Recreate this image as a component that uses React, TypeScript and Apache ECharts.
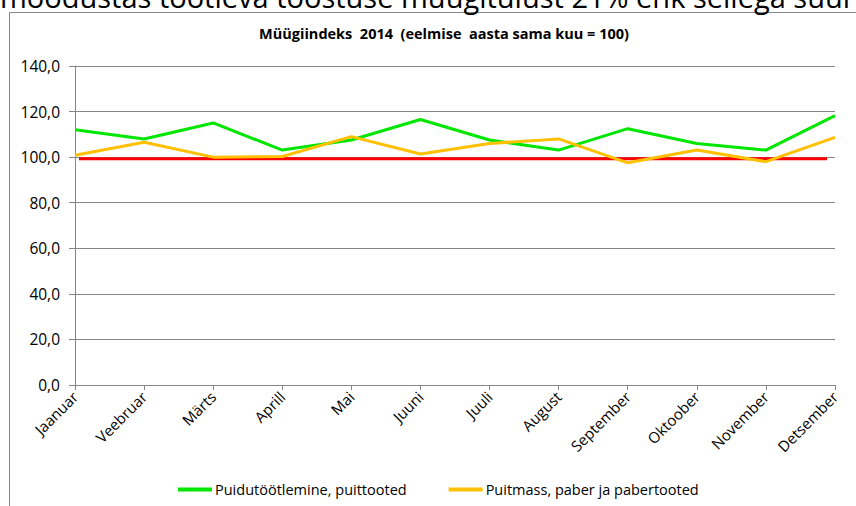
import React, { useEffect, useRef } from "react";
import * as echarts from "echarts";

const months = ["Jaanuar", "Veebruar", "Märts", "Aprill", "Mai", "Juuni", "Juuli", "August", "September", "Oktoober", "November", "Detsember"];
const puit = [112, 108, 115, 103.1, 107.5, 116.5, 107.5, 103.1, 112.5, 106, 103.1, 118.2];
const paber = [100.8, 106.5, 100, 100.3, 109, 101.4, 106, 108, 97.5, 103.1, 98, 108.7];
const referenceValue = 99.3;
const seriesNames = ["Puidutöötlemine, puittooted", "Puitmass, paber ja pabertooted"];
const titleText = "Müügiindeks\u00a0 2014\u00a0 (eelmise\u00a0 aasta sama kuu = 100)";
const topText = "moodustas töötleva tööstuse müügitulust 21% ehk sellega suuri";

const FONT = "'Open Sans', sans-serif";

export default function App() {
  const ref = useRef<HTMLDivElement>(null);
  useEffect(() => {
    if (!ref.current) return;
    const chart = echarts.init(ref.current, null, { renderer: "svg" });
    const option: any = {
      animation: false,
      backgroundColor: "#ffffff",
      textStyle: { fontFamily: FONT },
      title: {
        text: titleText,
        left: 439,
        top: 21,
        textAlign: "center",
        textStyle: { fontSize: 14.5, fontWeight: "bold", color: "#000", fontFamily: FONT },
      },
      grid: { left: 75, right: 21, top: 66, bottom: 121, containLabel: false },
      legend: {
        bottom: 4,
        left: 173,
        itemWidth: 34,
        itemHeight: 4,
        itemGap: 42,
        icon: "rect",
        textStyle: { fontSize: 14.5, color: "#000", fontFamily: FONT, padding: [0, 0, 0, -2] },
        data: seriesNames,
      },
      xAxis: {
        type: "category",
        data: months,
        boundaryGap: false,
        axisLine: { lineStyle: { color: "#868686", width: 1 } },
        axisTick: { show: true, alignWithLabel: true, length: 5, lineStyle: { color: "#868686" } },
        axisLabel: { rotate: 45, fontSize: 15, color: "#000", margin: 9, interval: 0, fontFamily: FONT },
      },
      yAxis: {
        type: "value",
        min: 0,
        max: 140,
        interval: 20,
        axisLine: { show: true, lineStyle: { color: "#868686", width: 1 } },
        axisTick: { show: true, inside: false, length: 6, lineStyle: { color: "#868686" } },
        splitLine: { lineStyle: { color: "#868686", width: 1 } },
        axisLabel: {
          fontSize: 15.5,
          color: "#000",
          margin: 15,
          fontFamily: FONT,
          formatter: (v: number) => v.toFixed(1).replace(".", ","),
        },
      },
      series: [
        {
          name: seriesNames[0],
          type: "line",
          data: puit,
          symbol: "none",
          lineStyle: { color: "#00E600", width: 3 },
          itemStyle: { color: "#00E600" },
          z: 4,
        },
        {
          name: seriesNames[1],
          type: "line",
          data: paber,
          symbol: "none",
          lineStyle: { color: "#FFC000", width: 3 },
          itemStyle: { color: "#FFC000" },
          z: 5,
        },
      ],
    };
    chart.setOption(option);
    const ry = chart.convertToPixel({ yAxisIndex: 0 }, referenceValue) as number;
    chart.setOption({
      graphic: [
        {
          type: "rect",
          shape: { x: 9.5, y: 12.5, width: 900, height: 600 },
          style: { fill: "none", stroke: "#868686", lineWidth: 1 },
          z: 0,
          silent: true,
        },
        {
          type: "text",
          x: 0,
          y: -18,
          style: { text: topText, fontSize: 29, fill: "#000", fontFamily: FONT },
          z: 10,
          silent: true,
        },
        {
          type: "line",
          shape: { x1: 79, y1: ry, x2: 827, y2: ry },
          style: { stroke: "#FF0000", lineWidth: 3 },
          z: 3,
          silent: true,
        },
      ],
    });
    return () => chart.dispose();
  }, []);
  return <div ref={ref} style={{ position: "absolute", left: 0, top: 0, width: 856, height: 506 }} />;
}
